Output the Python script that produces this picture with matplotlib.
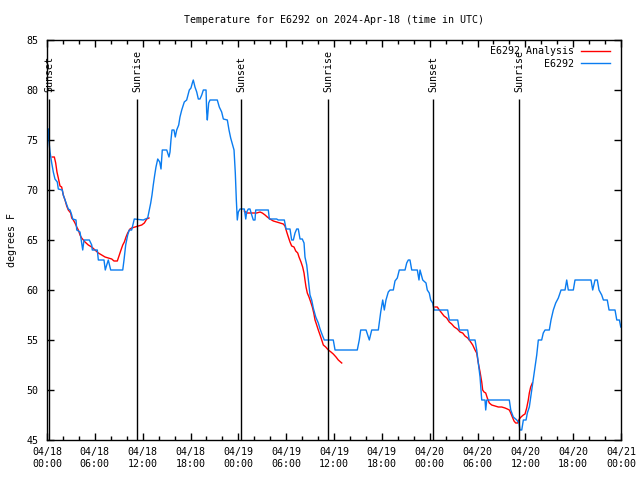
#!/usr/bin/env python3
import numpy as np
import pandas as pd
import matplotlib
matplotlib.use("Agg")
import matplotlib.pyplot as plt
import matplotlib.dates as mdates

plt.rcParams['font.family'] = ['DejaVu Sans Mono']
plt.rcParams['font.size'] = 7.2

start = pd.Timestamp("2024-04-18 00:00")
station = "E6292"
title = "Temperature for E6292 on 2024-Apr-18 (time in UTC)"

# hours after 04/18 00:00 UTC, degrees F
obs_hours = [0.16, 0.19, 0.38, 0.59, 0.79, 1.00, 1.29, 1.42, 1.92, 2.04, 2.26, 2.47, 2.67,
             2.89, 3.10, 3.22, 3.64, 3.73, 4.14, 4.48, 4.64, 5.31, 5.61, 5.68, 6.31, 6.44,
             7.15, 7.31, 7.49, 7.69, 7.99, 9.50, 9.66, 9.87, 10.12, 10.32, 10.62, 10.95,
             12.08, 12.63, 12.83, 13.01, 13.17, 13.33, 13.51, 13.67, 13.89, 14.14, 14.30,
             14.46, 15.02, 15.30, 15.43, 15.55, 15.68, 15.93, 16.09, 16.27, 16.52, 16.68,
             16.90, 17.22, 17.52, 17.85, 18.06, 18.23, 18.35, 18.56, 18.78, 18.98, 19.19,
             19.41, 19.61, 19.95, 20.03, 20.11, 20.28, 20.45, 21.36, 21.61, 21.91, 22.12,
             22.62, 22.83, 23.04, 23.46, 23.62, 23.75, 23.87, 24.00, 24.21, 24.75, 24.93,
             25.05, 25.25, 25.46, 25.68, 25.88, 26.09, 26.18, 27.76, 27.89, 28.81, 29.01,
             29.77, 29.98, 30.48, 30.69, 30.90, 31.11, 31.32, 31.52, 31.74, 32.02, 32.24,
             32.36, 32.58, 32.78, 32.99, 33.20, 33.40, 33.71, 34.03, 34.25, 34.53, 34.78,
             35.91, 36.13, 38.92, 39.17, 39.35, 40.02, 40.43, 40.73, 41.56, 41.69, 41.86,
             42.11, 42.31, 42.52, 42.81, 43.03, 43.44, 43.65, 43.94, 44.19, 44.91, 45.12,
             45.32, 45.53, 45.75, 46.45, 46.66, 46.79, 47.13, 47.54, 47.70, 47.95, 48.13,
             48.38, 48.55, 50.26, 50.46, 51.52, 51.72, 52.77, 52.97, 53.69, 53.90, 54.10,
             54.32, 54.44, 54.53, 54.94, 55.03, 55.16, 57.99, 58.17, 58.49, 58.92, 59.21,
             59.33, 59.55, 59.75, 60.09, 60.25, 60.50, 60.80, 61.00, 61.21, 61.43, 61.63,
             62.05, 62.25, 62.47, 63.01, 63.22, 63.51, 63.81, 64.14, 64.48, 64.98, 65.19,
             65.39, 66.02, 66.23, 68.24, 68.45, 68.74, 69.03, 69.24, 69.58, 69.79, 70.28,
             70.50, 71.25, 71.47, 71.80, 71.97]
obs_temp = [76.1, 75.3, 73.8, 72.7, 71.8, 71.1, 70.8, 70.1, 70.0, 69.5, 69.0, 68.5, 68.1,
            68.0, 67.5, 67.1, 67.0, 66.0, 65.8, 64.0, 65.0, 65.0, 64.5, 64.0, 64.0, 63.0,
            63.0, 62.0, 62.5, 63.0, 62.0, 62.0, 63.0, 64.5, 65.5, 66.0, 66.0, 67.1,
            67.0, 67.2, 68.0, 68.7, 69.5, 70.5, 71.5, 72.3, 73.1, 72.8, 72.1,
            74.0, 74.0, 73.3, 73.8, 75.0, 76.0, 76.0, 75.3, 76.0, 76.5, 77.3,
            78.0, 78.8, 79.0, 80.0, 80.2, 80.7, 81.0, 80.3, 79.8, 79.1, 79.1,
            79.5, 80.0, 80.0, 77.8, 77.0, 78.7, 79.0, 79.0, 78.3, 77.8, 77.1,
            77.0, 76.0, 75.2, 74.0, 71.7, 69.0, 67.0, 67.8, 68.1, 68.1, 67.1,
            67.8, 68.1, 68.1, 67.5, 67.0, 67.0, 68.0, 68.0, 67.1, 67.1, 67.0,
            67.0, 66.1, 66.1, 65.0, 65.0, 65.7, 66.1, 66.1, 65.1, 65.1, 64.7,
            63.3, 62.5, 61.0, 59.5, 59.0, 58.2, 57.3, 56.7, 56.1, 55.5, 55.0,
            55.0, 54.0, 54.0, 55.0, 56.0, 56.0, 55.0, 56.0, 56.0, 56.8, 57.8,
            59.0, 58.0, 59.0, 59.8, 60.0, 60.0, 60.9, 61.2, 62.0, 62.0, 62.7,
            63.0, 63.0, 62.0, 62.0, 61.0, 62.0, 61.0, 60.7, 60.0, 59.7, 59.0,
            58.7, 58.0, 58.0, 57.0, 57.0, 56.0, 56.0, 55.0, 55.0, 54.0, 52.7,
            51.3, 50.0, 49.0, 49.0, 48.0, 49.0, 49.0, 48.0, 47.3, 47.0, 46.7,
            46.0, 46.0, 47.0, 47.0, 47.7, 48.3, 50.0, 51.2, 52.3, 53.5, 55.0,
            55.0, 55.7, 56.0, 56.0, 57.0, 58.0, 58.7, 59.2, 60.0, 60.0, 61.0,
            60.0, 60.0, 61.0, 61.0, 60.0, 61.0, 61.0, 60.0, 59.5, 59.0, 59.0,
            58.0, 58.0, 57.0, 57.0, 56.3]

# analysis comes in three separate nightly pieces
ana1_hours = [0.66, 0.92, 1.09, 1.25, 1.42, 1.63, 1.84, 2.04, 2.26, 2.47, 2.67, 2.97, 3.10,
              3.30, 3.51, 3.73, 3.93, 4.14, 4.35, 4.77, 5.18, 5.61, 6.02, 6.44, 6.86, 7.28,
              7.69, 8.12, 8.40, 8.82, 9.03, 9.28, 9.50, 9.70, 9.91, 10.12, 10.41, 10.62,
              11.04, 11.45, 11.88, 12.21, 12.51, 12.79]
ana1_temp = [73.3, 73.3, 72.7, 71.8, 71.2, 70.4, 70.3, 69.5, 69.0, 68.4, 68.0, 67.7, 67.2,
             67.0, 66.7, 66.3, 66.0, 65.5, 65.2, 64.8, 64.5, 64.3, 64.0, 63.7, 63.5, 63.3,
             63.2, 63.1, 62.9, 62.9, 63.4, 64.0, 64.5, 64.8, 65.3, 65.7, 66.1, 66.2,
             66.3, 66.4, 66.5, 66.7, 67.1, 67.2]

ana2_hours = [24.75, 25.05, 25.46, 25.88, 26.30, 26.72, 27.01, 27.35, 27.63, 27.97, 28.39,
              28.81, 29.23, 29.64, 29.85, 30.07, 30.27, 30.48, 30.69, 30.98, 31.20, 31.45,
              31.61, 31.86, 32.07, 32.24, 32.36, 32.49, 32.65, 32.86, 33.08, 33.28, 33.46,
              33.62, 33.83, 34.03, 34.25, 34.46, 34.66, 34.96, 35.29, 35.62, 35.91, 36.25,
              36.54, 36.97]
ana2_temp = [67.9, 67.7, 67.7, 67.7, 67.7, 67.8, 67.7, 67.5, 67.3, 67.1, 66.9,
             66.8, 66.7, 66.6, 66.4, 65.8, 65.3, 64.8, 64.4, 64.3, 63.9, 63.7,
             63.3, 62.8, 62.3, 61.7, 61.0, 60.3, 59.7, 59.3, 58.8, 58.3, 57.7,
             57.0, 56.5, 56.0, 55.5, 55.0, 54.5, 54.3, 54.0, 53.8, 53.6, 53.3,
             53.0, 52.7]

ana3_hours = [48.67, 48.96, 49.21, 49.51, 49.80, 50.14, 50.46, 50.76, 51.09, 51.47, 51.81,
              52.14, 52.43, 52.77, 53.06, 53.40, 53.69, 53.90, 54.10, 54.32, 54.53, 54.65,
              54.82, 55.03, 55.23, 55.48, 55.78, 56.20, 56.61, 57.04, 57.45, 57.74, 57.99,
              58.17, 58.37, 58.58, 58.79, 59.04, 59.24, 59.46, 59.75, 59.96, 60.17, 60.37,
              60.50, 60.67, 60.88]
ana3_temp = [58.3, 58.3, 58.0, 57.7, 57.4, 57.2, 56.8, 56.6, 56.3, 56.1, 55.8,
             55.7, 55.4, 55.2, 54.9, 54.5, 54.0, 53.7, 52.7, 51.8, 50.8, 50.0,
             49.8, 49.7, 49.2, 48.7, 48.5, 48.4, 48.3, 48.3, 48.2, 48.1, 48.0,
             47.7, 47.3, 46.9, 46.7, 46.7, 47.1, 47.3, 47.5, 47.6, 48.2, 49.0,
             49.7, 50.3, 50.7]

sun_hours = [0.29, 11.33, 24.38, 35.30, 48.47, 59.26]
sun_labels = ["Sunset", "Sunrise", "Sunset", "Sunrise", "Sunset", "Sunrise"]


def to_time(hours):
    return start + pd.to_timedelta(np.asarray(hours), unit='h')


fig = plt.figure(figsize=(6.4, 4.8), dpi=100)
ax = fig.add_axes([47 / 640, 40 / 480, 574 / 640, 400 / 480])

red = '#ff0000'
blue = '#0a7cf0'

for i, (h, t) in enumerate([(ana1_hours, ana1_temp), (ana2_hours, ana2_temp),
                             (ana3_hours, ana3_temp)]):
    ax.plot(to_time(h), t, color=red, lw=1.0,
            label=station + " Analysis" if i == 0 else None)
ax.plot(to_time(obs_hours), obs_temp, color=blue, lw=1.0, label=station)

for h, lab in zip(sun_hours, sun_labels):
    tt = to_time([h])[0]
    ax.vlines(tt, 45, 79.1, color='black', lw=1.0)
    ax.text(tt, 79.75, lab, rotation=90, ha='center', va='bottom', fontsize=7.2)

ax.set_xlim(start, start + pd.Timedelta(hours=72))
ax.set_ylim(45, 85)
ax.set_yticks(range(45, 86, 5))
ax.xaxis.set_major_locator(mdates.HourLocator(byhour=[0, 6, 12, 18]))
ax.xaxis.set_minor_locator(mdates.HourLocator(byhour=range(0, 24, 2)))
ax.xaxis.set_major_formatter(mdates.DateFormatter("%m/%d\n%H:%M"))
ax.tick_params(which='both', direction='in', top=True, right=True, color='black')
ax.tick_params(which='major', length=5, width=1, pad=6)
ax.tick_params(axis='x', which='major', pad=5)
ax.tick_params(which='minor', length=3, width=1)
for s in ax.spines.values():
    s.set_linewidth(1.0)

ax.set_ylabel("degrees F", labelpad=7)
ax.set_title(title, pad=12, fontsize=7.2)

# legend sits top right with text to the left of the sample line
leg = ax.legend(loc='upper right', bbox_to_anchor=(563 / 574, 1 - 6.5 / 400),
                frameon=False, markerfirst=False,
                handlelength=2.9, handletextpad=0.7, borderaxespad=0.0,
                borderpad=0.0, labelspacing=0.22, fontsize=7.2)

fig.savefig("out.png", dpi=100)
